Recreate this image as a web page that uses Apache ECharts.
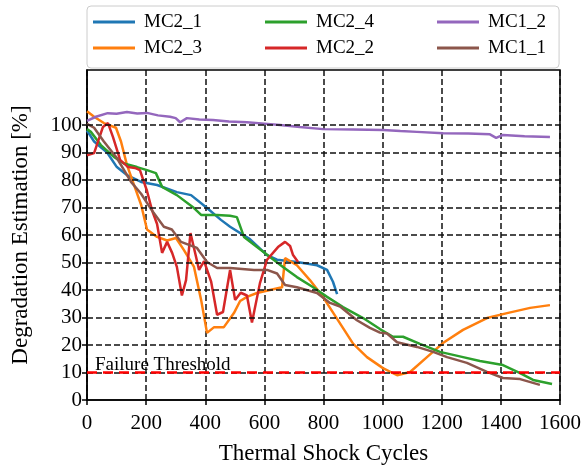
<!DOCTYPE html>
<html><head><meta charset="utf-8">
<script src="https://cdn.jsdelivr.net/npm/echarts@6/dist/echarts.min.js"></script>
<style>html,body{margin:0;padding:0;background:#fff}#c{width:586px;height:466px}</style>
</head><body><div id="c"></div>
<script>
const xTicks = [0,200,400,600,800,1000,1200,1400,1600];
const yTicks = [0,10,20,30,40,50,60,70,80,90,100];
const threshold = 10;
const MC2_1 = [[0,98],[24,94],[68,90],[101,84.7],[135,81.8],[183,79.3],[237,78.2],[304,75.6],[352,74.5],[406,69.8],[453,65.5],[484,63],[551,58.5],[609,52.7],[643,51],[710,50.2],[778,49],[812,47.3],[832,43],[846,38.5]];
const MC2_3 = [[0,105],[24,103],[57,100.7],[98,99],[115,94],[135,85.5],[159,78.2],[183,71],[203,62],[237,59.3],[271,58],[301,58.9],[328,54.5],[362,48.4],[386,36.4],[406,24.4],[430,26.5],[463,26.5],[497,31.6],[518,36],[541,37.5],[575,38.9],[619,40],[660,41],[670,51.6],[710,49],[754,43.6],[798,37.5],[846,29.5],[900,20.5],[947,15.6],[1001,11.6],[1049,9],[1093,10.2],[1150,15.6],[1204,20.7],[1272,25.5],[1353,29.8],[1421,31.6],[1499,33.5],[1566,34.5]];
const MC2_4 = [[0,98.5],[13,97.5],[47,92.7],[91,88.4],[125,86],[169,84.7],[203,83.6],[233,82.5],[254,77.5],[304,74.5],[362,69.8],[386,67.3],[440,67.3],[484,67],[507,66.5],[531,59.3],[575,55.6],[619,52],[663,48.4],[710,44.7],[765,41],[812,37.5],[866,33.8],[934,29.8],[991,25.8],[1035,23],[1069,23],[1126,20.4],[1194,17.5],[1272,15.6],[1329,14.2],[1407,12.7],[1465,9.8],[1509,7.3],[1573,5.8]];
const MC2_2 = [[0,89],[24,89.8],[54,99.3],[71,100.7],[88,95.6],[112,87.3],[139,84.7],[162,84.4],[179,83.6],[203,76],[220,69],[237,64],[254,53.5],[271,57.5],[288,53.5],[304,48.4],[321,38],[335,43.6],[350,60.7],[369,52],[379,47.3],[396,50.5],[420,43],[440,31],[460,32],[484,47.3],[501,36.4],[520,39],[541,38],[558,28.2],[585,42.5],[609,51],[646,55.6],[670,57.5],[687,56],[697,52.7],[714,50.2]];
const MC1_2 = [[0,101.5],[30,103],[70,104.3],[100,104.1],[135,104.7],[170,104.2],[203,104.4],[240,103.5],[281,103],[300,102.5],[315,101],[338,102.5],[380,102],[426,101.8],[480,101.3],[541,101],[600,100.5],[653,100],[720,99.3],[798,98.5],[900,98.4],[1001,98.2],[1060,97.8],[1116,97.5],[1205,97],[1290,96.9],[1363,96.6],[1384,95.3],[1407,96.4],[1480,95.9],[1566,95.6]];
const MC1_1 = [[0,100.4],[24,99],[57,94],[101,88],[149,79.3],[183,75],[216,69.5],[260,63],[287,62],[318,57.5],[372,55.3],[406,50.2],[440,48],[484,48],[565,47.3],[609,47.3],[643,46],[670,41.8],[710,41],[778,38.9],[822,35.3],[856,34],[913,29],[957,26.2],[991,24.5],[1015,24.2],[1049,21],[1116,19.3],[1171,17.5],[1218,15.6],[1285,13.5],[1353,10.2],[1407,8],[1465,7.6],[1532,5.5]];

const seriesDefs = [
  ['MC2_1', MC2_1, '#1f77b4'],
  ['MC2_3', MC2_3, '#ff7f0e'],
  ['MC2_4', MC2_4, '#2ca02c'],
  ['MC2_2', MC2_2, '#d62728'],
  ['MC1_2', MC1_2, '#9467bd'],
  ['MC1_1', MC1_1, '#8c564b']
];
const FONT = 'Liberation Serif';
const chart = echarts.init(document.getElementById('c'));
const legendBase = {
  orient: 'vertical', top: 12, itemWidth: 42, itemHeight: 3, itemGap: 6,
  icon: 'rect', selectedMode: false, padding: 0,
  textStyle: {fontFamily: FONT, fontSize: 19, color: '#000', lineHeight: 20, padding: [0,0,0,4]}
};
const series = [{
  type: 'line', name: '_grid', data: [], z: 1, silent: true,
  markLine: {
    silent: true, symbol: 'none', animation: false,
    label: {show: false},
    lineStyle: {color: '#111', width: 1.5, type: [6, 3]},
    data: yTicks.filter(v => v > 0).map(v => ({yAxis: v}))
  }
}];
seriesDefs.forEach(([n, d, c]) => series.push({
  type: 'line', name: n, data: d, showSymbol: false, symbol: 'none', z: 3,
  lineStyle: {color: c, width: 2.5}, itemStyle: {color: c}, animation: false
}));
series.push({
  type: 'line', name: '_thr', data: [], z: 2, silent: true,
  markLine: {
    silent: true, symbol: 'none', animation: false,
    lineStyle: {color: '#ff0000', width: 2.5, type: [10, 6]},
    label: {show: true, position: 'insideStartTop', formatter: 'Failure Threshold',
      fontFamily: FONT, fontSize: 19, color: '#000', distance: [8, -2]},
    data: [{yAxis: threshold}]
  }
});
chart.setOption({
  animation: false,
  grid: {left: 87, right: 26, top: 70, bottom: 66, show: true, borderColor: '#000', borderWidth: 1.5,
    backgroundColor: 'transparent', containLabel: false, outerBoundsMode: 'none'},
  legend: [
    Object.assign({}, legendBase, {left: 87, top: 6, data: ['MC2_1','MC2_3'], z: 4,
      padding: [6, 357, 10, 6], backgroundColor: 'rgba(255,255,255,0.85)',
      borderColor: '#cccccc', borderWidth: 1, borderRadius: 4}),
    Object.assign({}, legendBase, {left: 265, data: ['MC2_4','MC2_2'], z: 6}),
    Object.assign({}, legendBase, {left: 437, data: ['MC1_2','MC1_1'], z: 6})
  ],
  xAxis: {
    type: 'value', min: 0, max: 1600, interval: 200,
    name: 'Thermal Shock Cycles', nameLocation: 'middle', nameGap: 42,
    nameTextStyle: {fontFamily: FONT, fontSize: 23, color: '#000'},
    axisLine: {lineStyle: {color: '#000', width: 1.5}},
    axisTick: {show: true, length: 5, lineStyle: {color: '#000', width: 1.5}},
    axisLabel: {fontFamily: FONT, fontSize: 21, color: '#000', margin: 13, customValues: xTicks, formatter: v => String(v)},
    splitLine: {show: true, lineStyle: {color: '#111', width: 1.5, type: [6, 3]}}
  },
  yAxis: {
    type: 'value', min: 0, max: 120, interval: 10,
    name: 'Degradation Estimation [%]', nameLocation: 'middle', nameGap: 55,
    nameTextStyle: {fontFamily: FONT, fontSize: 23, color: '#000'},
    axisLine: {show: true, lineStyle: {color: '#000', width: 1.5}},
    axisTick: {show: true, length: 5, lineStyle: {color: '#000', width: 1.5}, customValues: yTicks},
    axisLabel: {fontFamily: FONT, fontSize: 21, color: '#000', margin: 5, customValues: yTicks, formatter: v => String(v)},
    splitLine: {show: false}
  },
  series: series
});
</script></body></html>
